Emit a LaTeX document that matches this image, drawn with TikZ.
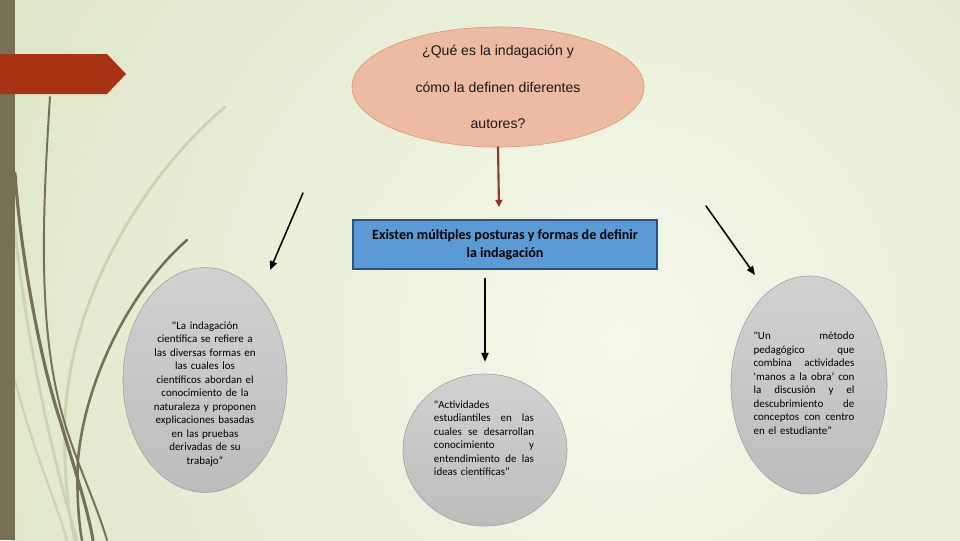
\documentclass[tikz,border=0pt]{standalone}
\usepackage{fontspec}
\setmainfont{Carlito}
\newfontfamily\arialfont{Liberation Sans}
\usetikzlibrary{arrows.meta,shapes.geometric}

\definecolor{fondo}{RGB}{224,232,202}
\definecolor{fondoclaro}{RGB}{246,248,236}
\definecolor{oliva}{RGB}{118,112,84}
\definecolor{olivaclaro}{RGB}{203,212,175}
\definecolor{ladrillo}{RGB}{168,50,20}
\definecolor{salmon}{RGB}{237,187,161}
\definecolor{salmonborde}{RGB}{212,150,100}
\definecolor{azul}{RGB}{91,155,213}
\definecolor{azulborde}{RGB}{45,80,130}
\definecolor{flecharoja}{RGB}{150,55,35}

% linea justificada
\newcommand{\lj}[1]{\makebox[\hsize][s]{\spaceskip=0pt\xspaceskip=0pt #1}\\}

\begin{document}
\begin{tikzpicture}[x=0.025cm, y=-0.025cm, line cap=round,
	pregunta/.style={ellipse, draw=salmonborde, fill=salmon, minimum width=7.3cm, minimum height=3cm, inner sep=0pt, align=center, text=black!90, font=\arialfont\fontsize{10}{26}\selectfont},
	recuadro/.style={rectangle, draw=azulborde, line width=0.9pt, fill=azul, minimum width=7.6cm, minimum height=1.22cm, align=center, font=\bfseries\fontsize{10}{12.8}\selectfont},
	elipsegris/.style={ellipse, draw=gray!75, top color=gray!36, bottom color=gray!52, inner sep=0pt},
	cita/.style={font=\fontsize{7.8}{9.6}\selectfont, inner sep=0pt},
	flecha/.style={-{Triangle[length=2.2mm,width=1.8mm]}, line width=1.1pt}]
	\useasboundingbox (0,0) rectangle (960,540);
	\clip (0,0) rectangle (960,540);
	% fondo
	\fill[fondo] (0,0) rectangle (960,540);
	\shade[inner color=fondoclaro, outer color=fondo] (620,340) circle (16cm);
	% trazos decorativos
	\draw[olivaclaro, line width=2pt] (225,107) .. controls (150,170) and (70,290) .. (65,420) .. controls (63,480) and (70,520) .. (75,540);
	\draw[olivaclaro, line width=2pt] (15,230) .. controls (25,330) and (50,450) .. (77,540);
	\draw[olivaclaro, line width=1.5pt] (15,380) .. controls (30,440) and (55,500) .. (67,540);
	\draw[oliva, line width=1.4pt] (50,97) .. controls (42,220) and (38,330) .. (63,417) .. controls (75,460) and (95,500) .. (107,540);
	\draw[oliva, line width=2.2pt] (15,173) .. controls (20,250) and (40,360) .. (60,420) .. controls (75,470) and (88,510) .. (93,540);
	\draw[oliva, line width=1.8pt] (187,240) .. controls (130,290) and (85,380) .. (78,460) .. controls (76,500) and (80,530) .. (82,540);
	\fill[oliva] (0,0) rectangle (15,540);
	\fill[ladrillo] (0,54) -- (107,54) -- (126,74) -- (107,94) -- (0,94) -- cycle;

	\node[pregunta] (pregunta) at (498,87) {¿Qué es la indagación y\\cómo la definen diferentes\\autores?};
	\node[recuadro] (posturas) at (505,244.5) {Existen múltiples posturas y formas de definir\\la indagación};

	\node[elipsegris, minimum width=4.1cm, minimum height=5.62cm] (defA) at (205,380) {};
	\node[elipsegris, minimum width=4.1cm, minimum height=3.8cm] (defB) at (485,450) {};
	\node[elipsegris, minimum width=3.9cm, minimum height=5.45cm] (defC) at (809,385) {};

	\node[cita, text width=3cm, align=center] (textoA) at (205,394) {\textquotedbl La indagación\\científica se refiere a\\las diversas formas en\\las cuales los\\científicos abordan el\\conocimiento de la\\naturaleza y proponen\\explicaciones basadas\\en las pruebas\\derivadas de su\\trabajo”};
	\node[cita, text width=2.5cm, align=left] (textoB) at (484,438) {\textquotedbl Actividades\\\lj{estudiantiles en las}\lj{cuales se desarrollan}\lj{conocimiento y}\lj{entendimiento de las}ideas científicas”};
	\node[cita, text width=2.52cm, align=left] (textoC) at (804,383) {\lj{\textquotedbl Un método}\lj{pedagógico que}\lj{combina actividades}\lj{\textquotesingle manos a la obra’ con}\lj{la discusión y el}\lj{descubrimiento de}\lj{conceptos con centro}en el estudiante”};

	\coordinate (rojafin) at (499,207);
	\coordinate (flechaA1) at (303,193);
	\coordinate (flechaA2) at (270,270);
	\coordinate (flechaC1) at (706,206);
	\coordinate (flechaC2) at (755,275);

	\draw[flecha, flecharoja, line width=1.5pt, -{Triangle[length=1.8mm,width=1.8mm]}] (pregunta.south) -- (rojafin);
	\draw[flecha] (defB.north |- posturas.south) ++(0,9) -- ([yshift=0.3cm]defB.north);
	\draw[flecha] (flechaA1) -- (flechaA2);
	\draw[flecha] (flechaC1) -- (flechaC2);
\end{tikzpicture}
\end{document}
